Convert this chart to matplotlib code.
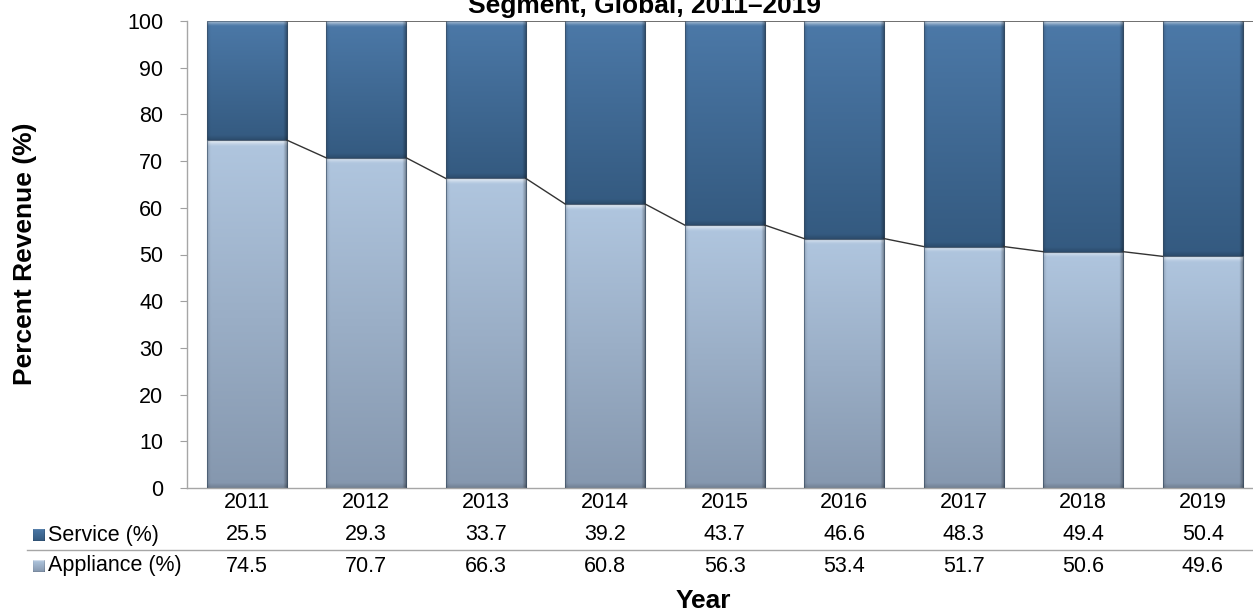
import numpy as np
import matplotlib
matplotlib.use("Agg")
import matplotlib.pyplot as plt
from matplotlib.patches import Rectangle
from matplotlib.colors import to_rgb
from matplotlib.transforms import blended_transform_factory

years = ["2011", "2012", "2013", "2014", "2015", "2016", "2017", "2018", "2019"]
service = [25.5, 29.3, 33.7, 39.2, 43.7, 46.6, 48.3, 49.4, 50.4]
appliance = [74.5, 70.7, 66.3, 60.8, 56.3, 53.4, 51.7, 50.6, 49.6]
series_names = ["Service (%)", "Appliance (%)"]
title = "Segment, Global, 2011\u20132019"
ylabel = "Percent Revenue (%)"
xlabel = "Year"

W, H = 1253, 614
plt.rcParams["font.family"] = ["Liberation Sans", "DejaVu Sans"]
fig = plt.figure(figsize=(W / 100, H / 100), dpi=100)

def fx(px):
    return px / W

def fy(py):
    return 1 - py / H

ax_left, ax_top, ax_bottom, ax_right = 187, 21, 488, 1253
ax = fig.add_axes([fx(ax_left), fy(ax_bottom), fx(ax_right - ax_left), (ax_bottom - ax_top) / H])

bar_w = 0.67
x = np.arange(len(years))

serv_top, serv_bot = to_rgb("#4c79a8"), to_rgb("#345a80")
app_top, app_bot = to_rgb("#b0c6df"), to_rgb("#8597ae")


def segment_image(c_top, c_bot, y0, y1, nrows=300, ncols=60):
    """Vertical gradient with a bevel: light top band, darker side edges."""
    t = np.linspace(0, 1, nrows)[:, None]  # 0 = top, 1 = bottom
    top = np.array(c_top)[None, None, :]
    bot = np.array(c_bot)[None, None, :]
    img = top * (1 - t[..., None]) + bot * t[..., None]
    img = np.repeat(img, ncols, axis=1)
    height = y1 - y0
    # highlight near the top edge (about 1.3 data units)
    d_top = t[:, 0] * height
    hl = np.clip(1 - d_top / 1.3, 0, 1) ** 1.5 * 0.75
    img = img * (1 - hl[:, None, None]) + hl[:, None, None]
    # darker band near the bottom edge
    d_bot = (1 - t[:, 0]) * height
    sh = np.clip(1 - d_bot / 1.0, 0, 1) * 0.15
    img = img * (1 - sh[:, None, None])
    # side shading
    u = np.linspace(0, 1, ncols)
    side = np.clip(1 - (1 - u) / 0.05, 0, 1) * 0.35 + np.clip(1 - u / 0.04, 0, 1) * 0.12
    img = img * (1 - side[None, :, None])
    return np.clip(img, 0, 1)


for i in range(len(years)):
    x0, x1 = x[i] - bar_w / 2, x[i] + bar_w / 2
    segs = [(0, appliance[i], app_top, app_bot),
            (appliance[i], appliance[i] + service[i], serv_top, serv_bot)]
    for y0, y1, ct, cb in segs:
        ax.imshow(segment_image(ct, cb, y0, y1), extent=[x0, x1, y0, y1],
                  aspect="auto", interpolation="bilinear", zorder=2)
        ax.add_patch(Rectangle((x0, y0), bar_w, y1 - y0, fill=False,
                               edgecolor="#34485e", linewidth=0.8, alpha=0.6, zorder=3))

# series lines joining the segment tops between bars
for i in range(len(years) - 1):
    xa, xb = x[i] + bar_w / 2, x[i + 1] - bar_w / 2
    ax.plot([xa, xb], [appliance[i], appliance[i + 1]], color="#333333", lw=1.0, zorder=4)
    ax.plot([xa, xb], [appliance[i] + service[i], appliance[i + 1] + service[i + 1]],
            color="#555555", lw=1.2, zorder=4)
ax.plot([x[-1] + bar_w / 2, 9], [100, 100], color="#555555", lw=1.2, zorder=4)

step = 119.5
ax.set_xlim(-0.5, -0.5 + (ax_right - ax_left) / step)
ax.set_ylim(0, 100)
ax.set_yticks(np.arange(0, 101, 10))
ax.tick_params(axis="y", labelsize=15.5, length=5, color="#a0a0a0", pad=12)
ax.set_xticks([])
for s in ["top", "right"]:
    ax.spines[s].set_visible(False)
for s in ["left", "bottom"]:
    ax.spines[s].set_color("#a6a6a6")
    ax.spines[s].set_linewidth(1.0)

# data table under the axis
fs = 15.5
tr = blended_transform_factory(ax.transData, fig.transFigure)
for i, yr in enumerate(years):
    ax.text(x[i], fy(503), yr, transform=tr, ha="center", va="center", fontsize=fs)
    ax.text(x[i], fy(535), f"{service[i]:.1f}", transform=tr, ha="center", va="center", fontsize=fs)
    ax.text(x[i], fy(566), f"{appliance[i]:.1f}", transform=tr, ha="center", va="center", fontsize=fs)

fig.add_artist(plt.Line2D([fx(27), 1], [fy(550), fy(550)], color="#a6a6a6", lw=1.0))

for row_y, name, ct, cb in [(535, series_names[0], serv_top, serv_bot),
                            (566, series_names[1], app_top, app_bot)]:
    kax = fig.add_axes([fx(33), fy(row_y + 6), fx(12), 12 / H])
    kax.imshow(segment_image(ct, cb, 0, 10), aspect="auto", interpolation="bilinear")
    kax.axis("off")
    fig.text(fx(48), fy(row_y), name, ha="left", va="center", fontsize=fs)

fig.text(fx(703), fy(601), xlabel, ha="center", va="center", fontsize=19, fontweight="bold")
fig.text(fx(25), fy(254), ylabel, ha="center", va="center", rotation=90,
         fontsize=19, fontweight="bold")
fig.text(fx(644), fy(13), title, ha="center", va="baseline", fontsize=19, fontweight="bold")

fig.savefig("out.png", dpi=100)
